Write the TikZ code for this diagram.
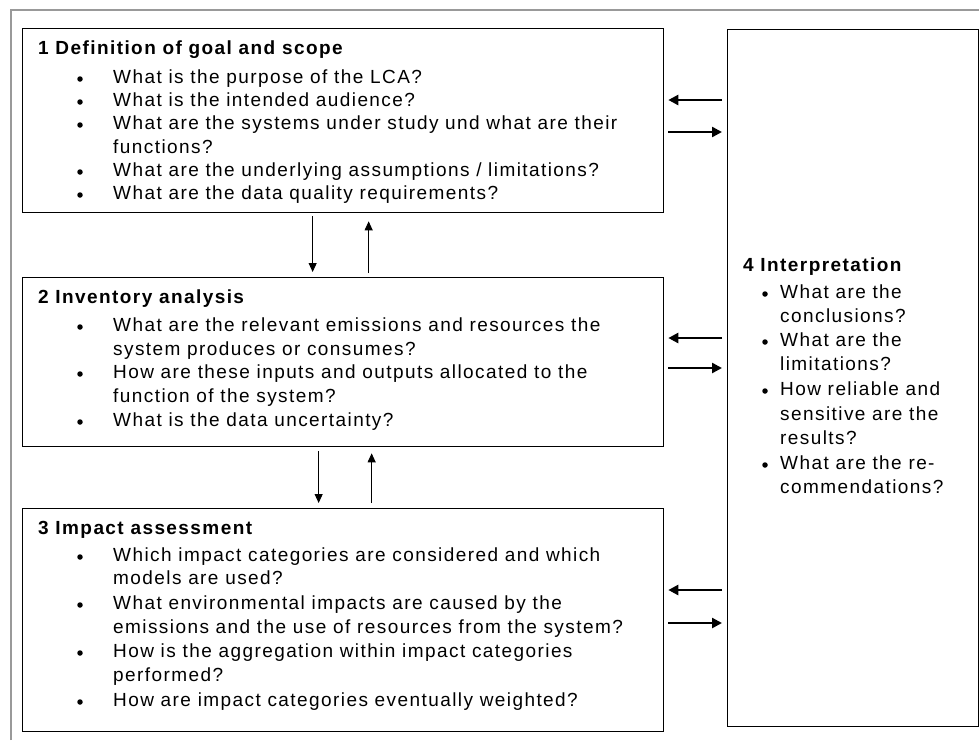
\documentclass[tikz,border=0pt]{standalone}
\usepackage{fontspec}
\setmainfont{Liberation Sans}[LetterSpace=7.5]
\usetikzlibrary{arrows.meta}
\begin{document}
\begin{tikzpicture}[x=1pt,y=-1pt,
 box/.style={draw=black,line width=1.3pt,inner sep=0pt,anchor=north west},
 txt/.style={anchor=base west,inner sep=0pt,yshift=-6pt,font=\fontsize{19}{22}\selectfont},
 ttl/.style={anchor=base west,inner sep=0pt,yshift=-6pt,font=\fontsize{19}{22}\selectfont\bfseries},
 dot/.style={circle,fill=black,inner sep=0pt,minimum size=5.5pt,yshift=-2pt},
 varrow/.style={line width=1pt,-{Triangle[length=9pt,width=8pt]}},
 harrow/.style={line width=2.4pt,-{Triangle[length=10pt,width=10pt]}}]
\useasboundingbox (0,0) rectangle (979,740);
% outer frame
\draw[gray!80,line width=1.5pt] (11,740) -- (11,10) -- (979,10);
% boxes
\node[box,minimum width=641pt,minimum height=184pt] (b1) at (22,28) {};
\node[box,minimum width=641pt,minimum height=169pt] (b2) at (22,277) {};
\node[box,minimum width=641pt,minimum height=223pt] (b3) at (22,508) {};
\node[box,minimum width=251pt,minimum height=697pt] (b4) at (727,29) {};
% vertical arrows
\draw[varrow] ([xshift=-30.5pt,yshift=-3pt]b1.south) -- ([xshift=-30.5pt,yshift=5pt]b2.north);
\draw[varrow] ([xshift=25.5pt,yshift=4pt]b2.north) -- ([xshift=25.5pt,yshift=-8pt]b1.south);
\draw[varrow] ([xshift=-24.5pt,yshift=-4pt]b2.south) -- ([xshift=-24.5pt,yshift=5pt]b3.north);
\draw[varrow] ([xshift=28.5pt,yshift=5pt]b3.north) -- ([xshift=28.5pt,yshift=-6pt]b2.south);
% horizontal arrows
\draw[harrow,shorten <=5pt,shorten >=4pt] (b4.west |- 0,100) -- (b1.east |- 0,100);
\draw[harrow,shorten <=4pt,shorten >=5pt] (b1.east |- 0,132) -- (b4.west |- 0,132);
\draw[harrow,shorten <=5pt,shorten >=4pt] (b4.west |- 0,338) -- (b2.east |- 0,338);
\draw[harrow,shorten <=4pt,shorten >=5pt] (b2.east |- 0,368) -- (b4.west |- 0,368);
\draw[harrow,shorten <=5pt,shorten >=4pt] (b4.west |- 0,590) -- (b3.east |- 0,590);
\draw[harrow,shorten <=4pt,shorten >=5pt] (b3.east |- 0,623) -- (b4.west |- 0,623);
% box 1 text
\node[ttl] (t1) at (38,48) {1 Definition of goal and scope};
\node[dot] (d1a) at (80,77) {};  \node[txt] (l1a) at (113,77) {What is the purpose of the LCA?};
\node[dot] (d1b) at (80,100) {}; \node[txt] (l1b) at (113,100) {What is the intended audience?};
\node[dot] (d1c) at (80,123) {}; \node[txt] (l1c) at (113,123) {What are the systems under study und what are their};
\node[txt] (l1d) at (113,147) {functions?};
\node[dot] (d1e) at (80,170) {}; \node[txt] (l1e) at (113,170) {What are the underlying assumptions / limitations?};
\node[dot] (d1f) at (80,193) {}; \node[txt] (l1f) at (113,193) {What are the data quality requirements?};
% box 2 text
\node[ttl] (t2) at (38,297) {2 Inventory analysis};
\node[dot] (d2a) at (80,325) {}; \node[txt] (l2a) at (113,325) {What are the relevant emissions and resources the};
\node[txt] (l2b) at (113,349) {system produces or consumes?};
\node[dot] (d2c) at (80,372) {}; \node[txt] (l2c) at (113,372) {How are these inputs and outputs allocated to the};
\node[txt] (l2d) at (113,396) {function of the system?};
\node[dot] (d2e) at (80,420) {}; \node[txt] (l2e) at (113,420) {What is the data uncertainty?};
% box 3 text
\node[ttl] (t3) at (38,528) {3 Impact assessment};
\node[dot] (d3a) at (80,555) {}; \node[txt] (l3a) at (113,555) {Which impact categories are considered and which};
\node[txt] (l3b) at (113,578) {models are used?};
\node[dot] (d3c) at (80,603) {}; \node[txt] (l3c) at (113,603) {What environmental impacts are caused by the};
\node[txt] (l3d) at (113,627) {emissions and the use of resources from the system?};
\node[dot] (d3e) at (80,651) {}; \node[txt] (l3e) at (113,651) {How is the aggregation within impact categories};
\node[txt] (l3f) at (113,675) {performed?};
\node[dot] (d3g) at (80,700) {}; \node[txt] (l3g) at (113,700) {How are impact categories eventually weighted?};
% box 4 text
\node[ttl] (t4) at (743,265) {4 Interpretation};
\node[dot] (d4a) at (765,292) {}; \node[txt] (l4a) at (780,292) {What are the};
\node[txt] (l4b) at (780,316) {conclusions?};
\node[dot] (d4c) at (765,340) {}; \node[txt] (l4c) at (780,340) {What are the};
\node[txt] (l4d) at (780,364) {limitations?};
\node[dot] (d4e) at (765,389) {}; \node[txt] (l4e) at (780,389) {How reliable and};
\node[txt] (l4f) at (780,414) {sensitive are the};
\node[txt] (l4g) at (780,438) {results?};
\node[dot] (d4h) at (765,463) {}; \node[txt] (l4h) at (780,463) {What are the re-};
\node[txt] (l4i) at (780,487) {commendations?};
\end{tikzpicture}
\end{document}
